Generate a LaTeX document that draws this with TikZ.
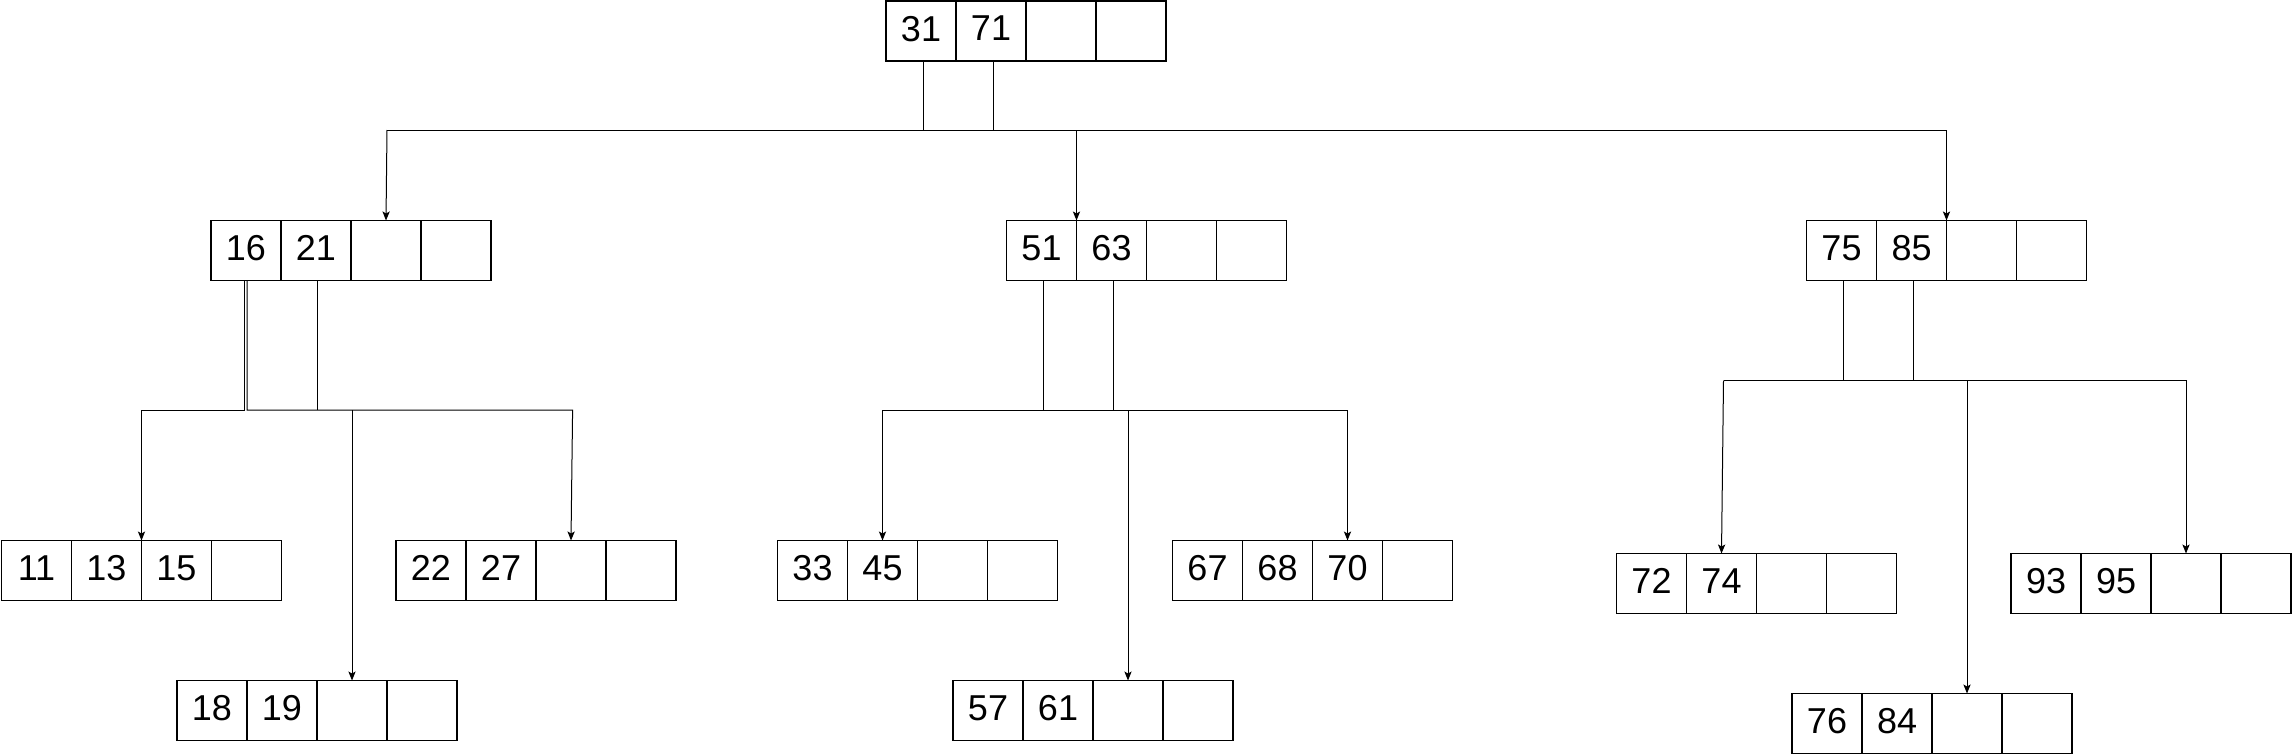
\documentclass[tikz,border=0pt]{standalone}
\usepackage{fontspec}
\setmainfont{Liberation Sans}
\usetikzlibrary{arrows.meta}
\tikzset{
  cell/.style={draw=black, line width=0.6pt, minimum width=35pt, minimum height=30pt, inner sep=0pt, outer sep=0pt, font=\fontsize{18}{20}\selectfont},
  conn/.style={draw=black, line width=0.5pt},
  arr/.style={conn, -{Stealth[length=4.5pt,width=3.6pt,inset=1pt]}},
}
\newcommand\keybox[7]{%
  \node[cell,anchor=north west] (#1-1) at (#2,#3) {\raisebox{2.5pt}{#4}};
  \node[cell,anchor=west] (#1-2) at (#1-1.east) {\raisebox{2.5pt}{#5}};
  \node[cell,anchor=west] (#1-3) at (#1-2.east) {\raisebox{2.5pt}{#6}};
  \node[cell,anchor=west] (#1-4) at (#1-3.east) {\raisebox{2.5pt}{#7}};
}
\begin{document}
\begin{tikzpicture}[x=0.5pt,y=-0.5pt]
\useasboundingbox (0,0) rectangle (2292,755);
% nodes
\keybox{r}{886}{1}{31}{71}{}{}
\keybox{a}{211}{220.5}{16}{21}{}{}
\keybox{b}{1006.5}{220.5}{51}{63}{}{}
\keybox{c}{1806.5}{220.5}{75}{85}{}{}
\keybox{d}{1.5}{540.5}{11}{13}{15}{}
\keybox{e}{396}{540.5}{22}{27}{}{}
\keybox{f}{177}{680.5}{18}{19}{}{}
\keybox{g}{777.5}{540.5}{33}{45}{}{}
\keybox{h}{1172.5}{540.5}{67}{68}{70}{}
\keybox{i}{953}{680.5}{57}{61}{}{}
\keybox{j}{1616.5}{553.5}{72}{74}{}{}
\keybox{k}{2011}{553.5}{93}{95}{}{}
\keybox{l}{1792}{693.5}{76}{84}{}{}
% bus levels
\coordinate (busT) at (0,130);
\coordinate (busA) at (0,410);
\coordinate (busC) at (0,380.5);
% root to level 1
\draw[conn] ([xshift=1pt]r-1.south) -- ([xshift=1pt]r-1.south |- busT);
\draw[conn] ([xshift=1pt]r-2.south) -- ([xshift=1pt]r-2.south |- busT);
\draw[conn] ([xshift=0.5pt]a-3.north |- busT) -- (c-2.north east |- busT);
\draw[arr] ([xshift=0.5pt]a-3.north |- busT) -- (a-3.north);
\draw[arr] (b-1.north east |- busT) -- (b-1.north east);
\draw[arr] (c-2.north east |- busT) -- (c-2.north east);
% 16|21 children
\draw[arr] ([xshift=-0.6pt]a-1.south) |- (d-2.north east |- busA) -- (d-2.north east);
\draw[arr] ([xshift=0.6pt]a-1.south) |- ([xshift=0.8pt]e-3.north |- busA) -- (e-3.north);
\draw[conn] ([xshift=0.6pt]a-2.south) -- ([xshift=0.6pt]a-2.south |- busA);
\draw[arr] (f-3.north |- busA) -- (f-3.north);
% 51|63 children
\draw[conn] ([xshift=1pt]b-1.south) -- ([xshift=1pt]b-1.south |- busA);
\draw[conn] ([xshift=1pt]b-2.south) -- ([xshift=1pt]b-2.south |- busA);
\draw[arr] (g-2.north |- busA) -- (g-2.north);
\draw[arr] (g-2.north |- busA) -- (h-3.north |- busA) -- (h-3.north);
\draw[arr] (i-3.north |- busA) -- (i-3.north);
% 75|85 children
\draw[conn] ([xshift=1pt]c-1.south) -- ([xshift=1pt]c-1.south |- busC);
\draw[conn] ([xshift=1pt]c-2.south) -- ([xshift=1pt]c-2.south |- busC);
\draw[arr] ([xshift=1pt]j-2.north |- busC) -- (j-2.north);
\draw[arr] ([xshift=1pt]j-2.north |- busC) -- (k-3.north |- busC) -- (k-3.north);
\draw[arr] (l-3.north |- busC) -- (l-3.north);
\end{tikzpicture}
\end{document}
